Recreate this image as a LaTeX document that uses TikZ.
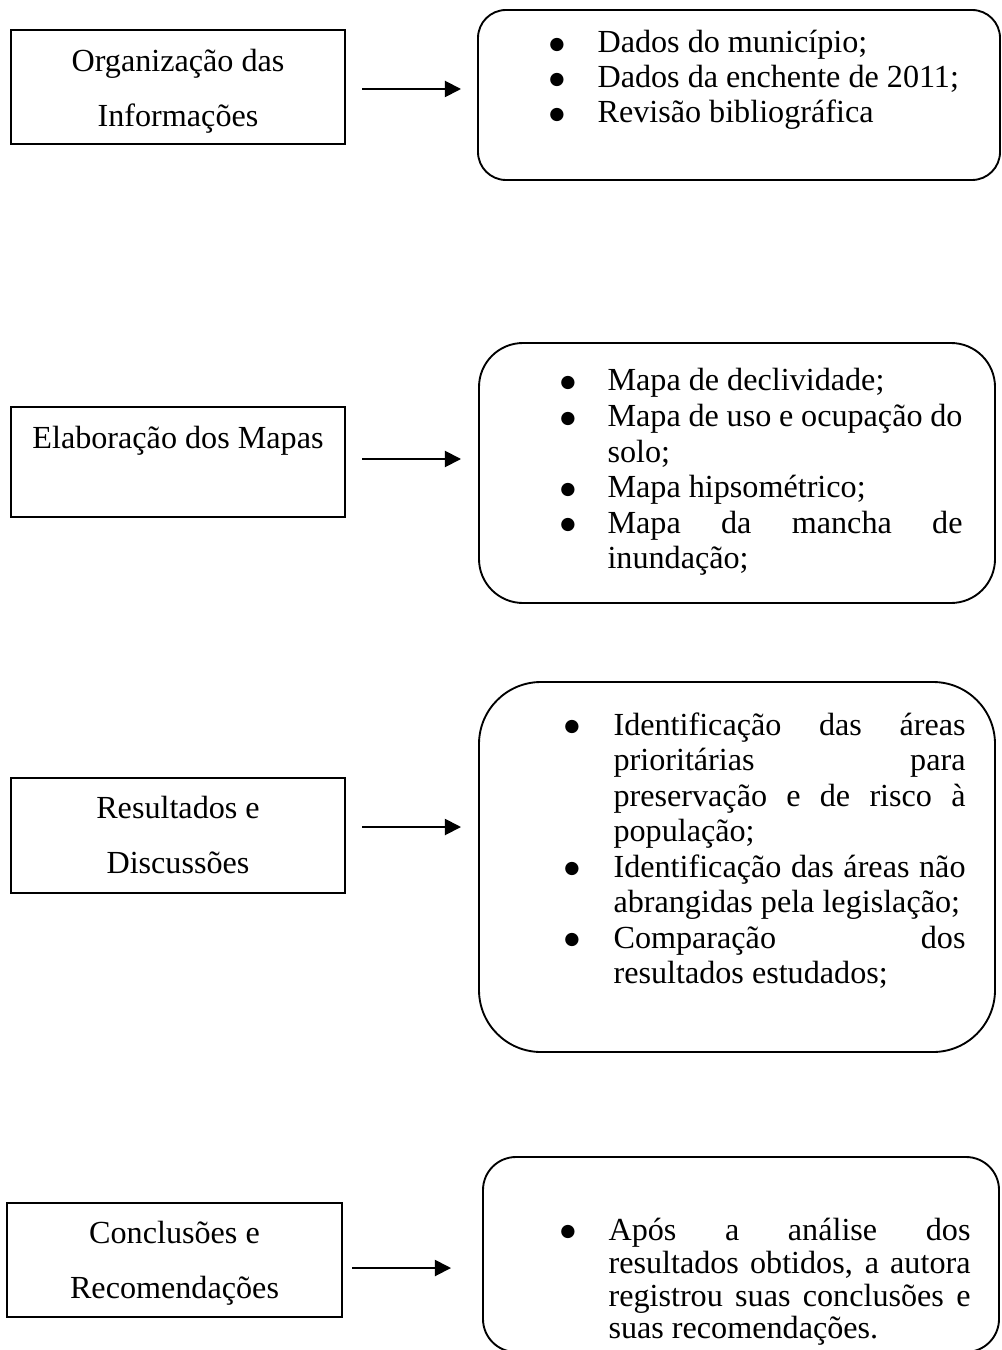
\documentclass[tikz,border=0pt]{standalone}
\usepackage{fontspec}
\setmainfont{Liberation Serif}
\newfontfamily\symfont{DejaVu Sans}
\usetikzlibrary{arrows.meta}
\def\px{0.3731pt}
\newcommand{\bigbul}{\raisebox{1.3pt}{\symfont\fontsize{6.5pt}{7pt}\selectfont ●}}
\tikzset{
  x=0.3731pt, y=-0.3731pt,
  sqbox/.style={draw, line width=0.55pt, rectangle, inner sep=0pt},
  rbox/.style={draw, line width=0.7pt, rectangle, inner sep=0pt},
  txt/.style={anchor=base west, inner sep=0pt, font=\fontsize{12pt}{14pt}\selectfont},
  ctxt/.style={anchor=base, inner sep=0pt, font=\fontsize{12pt}{14pt}\selectfont},
  bul/.style={anchor=base, inner sep=0pt},
  arr/.style={line width=0.7pt, -{Triangle[length=6pt,width=6pt]}}
}
\begin{document}
\begin{tikzpicture}
\fill[white] (0,0) rectangle (1001,1350);
\useasboundingbox (0,0) rectangle (1001,1350);

% ---- left boxes
\node[sqbox, minimum width=334*\px, minimum height=114*\px] (b1) at (178,87) {};
\node[ctxt] (b1a) at (178,72) {Organização das};
\node[ctxt] (b1b) at (178,127) {Informações};

\node[sqbox, minimum width=334*\px, minimum height=110*\px] (b2) at (178,462) {};
\node[ctxt] (b2a) at (178,448) {Elaboração dos Mapas};

\node[sqbox, minimum width=334*\px, minimum height=115*\px] (b3) at (178,835.5) {};
\node[ctxt] (b3a) at (178,818) {Resultados e};
\node[ctxt] (b3b) at (178,873) {Discussões};

\node[sqbox, minimum width=335*\px, minimum height=114*\px] (b4) at (174.5,1260) {};
\node[ctxt] (b4a) at (174.5,1243) {Conclusões e};
\node[ctxt] (b4b) at (174.5,1298) {Recomendações};

% ---- rounded boxes
\node[rbox, rounded corners=28*\px, minimum width=522*\px, minimum height=170*\px] (r1) at (739,95) {};
\node[rbox, rounded corners=44*\px, minimum width=516*\px, minimum height=260*\px] (r2) at (737,473) {};
\node[rbox, rounded corners=62*\px, minimum width=516*\px, minimum height=370*\px] (r3) at (737,867) {};
\node[rbox, rounded corners=33*\px, minimum width=516*\px, minimum height=195*\px] (r4) at (741,1254.5) {};

% ---- arrows
\coordinate (a1s) at (362,89);  \coordinate (a1e) at (461,89);
\coordinate (a2s) at (362,459); \coordinate (a2e) at (461,459);
\coordinate (a3s) at (362,827); \coordinate (a3e) at (461,827);
\coordinate (a4s) at (352,1268); \coordinate (a4e) at (451,1268);
\draw[arr] (a1s) -- (a1e);
\draw[arr] (a2s) -- (a2e);
\draw[arr] (a3s) -- (a3e);
\draw[arr] (a4s) -- (a4e);

% ---- box 1 list
\node[bul] (r1p1) at (557,53) {\bigbul};
\node[txt] (r1a) at (597,53) {Dados do município;};
\node[bul] (r1p2) at (557,88) {\bigbul};
\node[txt] (r1b) at (597,88) {Dados da enchente de 2011;};
\node[bul] (r1p3) at (557,123) {\bigbul};
\node[txt] (r1c) at (597,123) {Revisão bibliográfica};

% ---- box 2 list
\node[bul] (r2p1) at (568,391) {\bigbul};
\node[txt] (r2a) at (607,391) {Mapa de declividade;};
\node[bul] (r2p2) at (568,426.5) {\bigbul};
\node[txt] (r2b) at (607,426.5) {\makebox[132.45pt][s]{Mapa de uso e ocupação do}};
\node[txt] (r2c) at (607,462) {solo;};
\node[bul] (r2p3) at (568,497.5) {\bigbul};
\node[txt] (r2d) at (607,497.5) {Mapa hipsométrico;};
\node[bul] (r2p4) at (568,533) {\bigbul};
\node[txt] (r2e) at (607,533) {\makebox[132.45pt][s]{Mapa da mancha de}};
\node[txt] (r2f) at (607,568.5) {inundação;};

% ---- box 3 list
\node[bul] (r3p1) at (572,735) {\bigbul};
\node[txt] (r3a) at (613,735) {\makebox[131.33pt][s]{Identificação das áreas}};
\node[txt] (r3b) at (613,770.5) {\makebox[131.33pt][s]{prioritárias para}};
\node[txt] (r3c) at (613,806) {\makebox[131.33pt][s]{preservação e de risco à}};
\node[txt] (r3d) at (613,841.5) {população;};
\node[bul] (r3p2) at (572,877) {\bigbul};
\node[txt] (r3e) at (613,877) {\makebox[131.33pt][s]{Identificação das áreas não}};
\node[txt] (r3f) at (613,912.5) {abrangidas pela legislação;};
\node[bul] (r3p3) at (572,948) {\bigbul};
\node[txt] (r3g) at (613,948) {\makebox[131.33pt][s]{Comparação dos}};
\node[txt] (r3h) at (613,983.5) {resultados estudados;};

% ---- box 4 list
\node[bul] (r4p1) at (568,1240) {\bigbul};
\node[txt] (r4a) at (608,1240) {\makebox[135.06pt][s]{Após a análise dos}};
\node[txt] (r4b) at (608,1273) {\makebox[135.06pt][s]{resultados obtidos, a autora}};
\node[txt] (r4c) at (608,1306) {\makebox[135.06pt][s]{registrou suas conclusões e}};
\node[txt] (r4d) at (608,1338) {suas recomendações.};
\end{tikzpicture}
\end{document}
